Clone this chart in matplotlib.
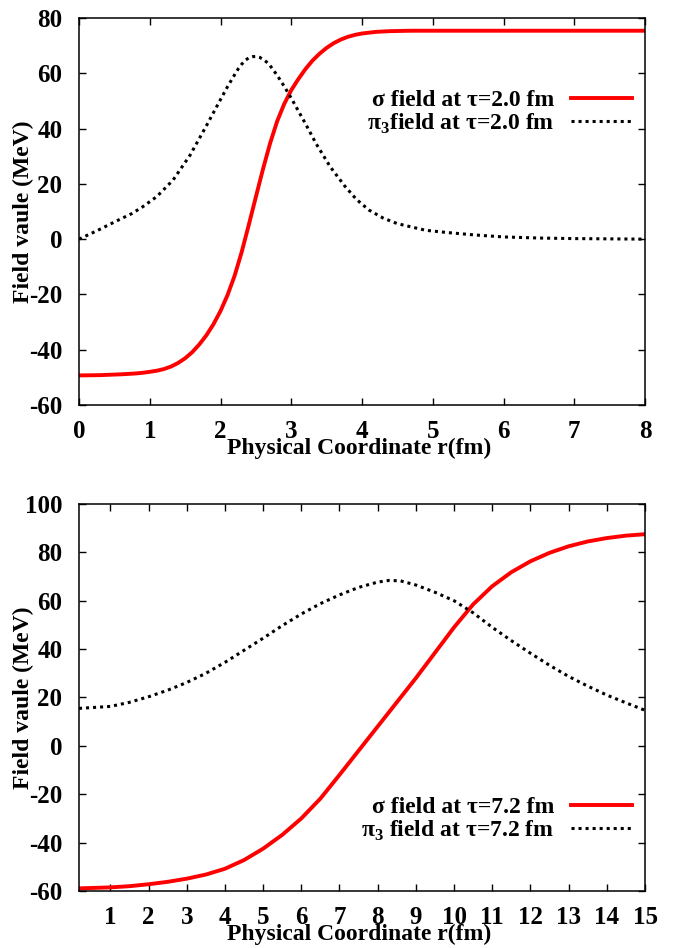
import matplotlib
matplotlib.use('Agg')
import matplotlib.pyplot as plt

plt.rcParams['font.family'] = ['Liberation Serif', 'DejaVu Serif']
plt.rcParams['font.weight'] = 'bold'
plt.rcParams['axes.unicode_minus'] = False
plt.rcParams['mathtext.fontset'] = 'custom'
plt.rcParams['mathtext.rm'] = 'Liberation Serif'

# tau = 2.0 fm
r_early = [0.0, 0.3, 0.6, 0.8, 0.9, 1.0, 1.1, 1.2, 1.3, 1.4, 1.5, 1.6, 1.7, 1.8, 1.9,
           2.0, 2.1, 2.2, 2.3, 2.4, 2.5, 2.6, 2.7, 2.8, 2.9, 3.0, 3.1, 3.2, 3.3, 3.4,
           3.5, 3.6, 3.7, 3.8, 3.9, 4.0, 4.2, 4.4, 4.7, 5.5, 8.0]
sigma_early = [-49.3, -49.2, -48.9, -48.6, -48.35, -48.0, -47.6, -47.0, -46.1, -44.8,
               -43.1, -40.9, -38.1, -34.8, -30.8, -26.0, -20.2, -13.2, -4.6, 5.2,
               15.3, 25.3, 34.6, 42.6, 48.9, 53.9, 57.9, 61.5, 64.6, 67.1, 69.2, 70.9,
               72.2, 73.2, 73.9, 74.4, 75.0, 75.25, 75.4, 75.4, 75.4]

r_early_pi = [0.0, 0.25, 0.5, 0.75, 0.9, 1.1, 1.33, 1.57, 1.8, 2.0, 2.1, 2.2, 2.25,
              2.3, 2.35, 2.4, 2.45, 2.5, 2.55, 2.6, 2.65, 2.7, 2.8, 2.9, 3.0, 3.1,
              3.2, 3.35, 3.55, 3.75, 3.92, 4.1, 4.3, 4.5, 4.9, 5.2, 5.6, 6.0, 6.5,
              7.0, 8.0]
pi_early = [0.0, 3.0, 6.2, 9.3, 11.7, 15.4, 21.4, 30.4, 41.0, 50.5, 55.2, 59.5, 61.6,
            63.3, 64.7, 65.6, 66.0, 66.1, 65.8, 65.1, 64.1, 62.8, 59.3, 55.3, 51.0,
            46.4, 41.8, 34.6, 26.2, 19.4, 14.4, 10.5, 7.6, 5.6, 3.2, 2.4, 1.5, 0.8,
            0.4, 0.2, 0.0]

# tau = 7.2 fm
r_late = [0.18, 1.0, 1.5, 2.0, 2.5, 3.0, 3.5, 4.0, 4.5, 5.0, 5.5, 6.0, 6.5, 7.0, 7.5,
          8.0, 8.5, 9.0, 9.5, 10.0, 10.5, 11.0, 11.5, 12.0, 12.5, 13.0, 13.5, 14.0,
          14.5, 15.0]
sigma_late = [-58.9, -58.5, -58.0, -57.2, -56.2, -54.9, -53.2, -50.8, -47.2, -42.5,
              -36.8, -30.0, -21.8, -12.0, -2.0, 8.0, 18.0, 28.0, 38.5, 49.0, 58.5,
              66.0, 71.8, 76.3, 79.8, 82.5, 84.5, 85.9, 86.9, 87.5]

r_late_pi = [0.18, 1.0, 1.5, 2.0, 2.5, 3.0, 3.5, 4.0, 4.5, 5.0, 5.5, 6.0, 6.5, 7.0,
             7.5, 8.0, 8.3, 8.6, 9.0, 9.5, 10.0, 10.5, 11.0, 11.5, 12.0, 12.5, 13.0,
             13.5, 14.0, 14.5, 15.0]
pi_late = [15.5, 16.3, 18.0, 20.3, 23.0, 26.2, 30.0, 34.5, 39.5, 44.5, 49.7, 54.5,
           58.8, 62.4, 65.5, 67.7, 68.4, 68.2, 66.5, 63.5, 60.0, 55.0, 49.0, 43.5,
           38.3, 33.3, 28.7, 24.7, 21.0, 17.8, 14.7]

labels_early = ['σ field at τ=2.0 fm', 'π$_3$field at τ=2.0 fm']
labels_late = ['σ field at τ=7.2 fm', 'π$_3$ field at τ=7.2 fm']

fig = plt.figure(figsize=(6.73, 9.48), dpi=100)
ax1 = fig.add_axes([0.1174, 0.5728, 0.841, 0.4082])
ax2 = fig.add_axes([0.1174, 0.0601, 0.841, 0.4083])

dots = (0, (1.0, 1.3))


def style(ax, xlim, ylim, xticks, yticks):
    ax.set_xlim(*xlim)
    ax.set_ylim(*ylim)
    ax.set_xticks(xticks)
    ax.set_yticks(yticks)
    ax.tick_params(direction='in', length=5, width=1, top=True, right=True,
                   labelsize=18)
    ax.tick_params(axis='x', pad=11)
    ax.tick_params(axis='y', pad=12)
    for s in ax.spines.values():
        s.set_linewidth(1.1)
    ax.set_xlabel('Physical Coordinate r(fm)', fontsize=17, fontweight='bold')
    ax.set_ylabel('Field vaule (MeV)', fontsize=17, fontweight='bold')
    ax.xaxis.set_label_coords(0.495, -0.085)
    ax.yaxis.set_label_coords(-0.079, 0.5)


def legend(ax, y):
    ax.legend(loc='center right', bbox_to_anchor=(0.977, y), frameon=False,
              markerfirst=False, fontsize=17, handlelength=2.6, handletextpad=0.7,
              labelspacing=0.0, borderpad=0, borderaxespad=0)


ax1.plot(r_early, sigma_early, color='red', lw=2.8, label=labels_early[0])
ax1.plot(r_early_pi, pi_early, color='black', lw=2.2, linestyle=dots,
         label=labels_early[1])
style(ax1, (0, 8), (-60, 80), range(0, 9), range(-60, 81, 20))
legend(ax1, 0.755)

ax2.plot(r_late, sigma_late, color='red', lw=2.8, label=labels_late[0])
ax2.plot(r_late_pi, pi_late, color='black', lw=2.2, linestyle=dots,
         label=labels_late[1])
style(ax2, (0.18, 15), (-60, 100), range(1, 16), range(-60, 101, 20))
legend(ax2, 0.184)

fig.savefig('out.png', dpi=100)
